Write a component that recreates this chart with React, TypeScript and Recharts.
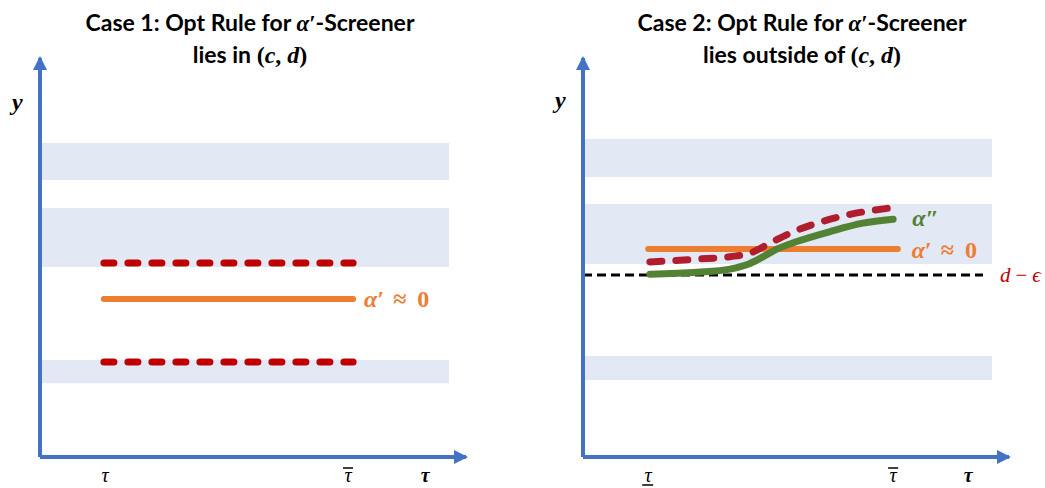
import { ComposedChart, Line, XAxis, YAxis, ReferenceArea, ReferenceLine, Scatter } from "recharts";

const AXIS_BLUE = "#4472C4";
const BAND = "#E2E8F4";
const ORANGE = "#ED7D31";
const RED1 = "#C00000";
const RED2 = "#B01E2D";
const GREEN = "#548235";
const SERIF = "'Liberation Serif', 'DejaVu Serif', serif";
const SANS = "Lato, 'Open Sans', sans-serif";

// x and y both run 0..10 on each panel
const case1Bands = [
  { y1: 6.94, y2: 7.87 },
  { y1: 4.76, y2: 6.24 },
  { y1: 1.85, y2: 2.43 },
];
const case2Bands = [
  { y1: 7.02, y2: 7.97 },
  { y1: 4.84, y2: 6.34 },
  { y1: 1.93, y2: 2.53 },
];
const bandEnd = 9.6;

const case1Upper = [{ x: 1.5, y: 4.86 }, { x: 7.35, y: 4.86 }];
const case1Alpha = [{ x: 1.5, y: 3.96 }, { x: 7.35, y: 3.96 }];
const case1Lower = [{ x: 1.5, y: 2.38 }, { x: 7.35, y: 2.38 }];

const case2Alpha = [{ x: 1.53, y: 5.21 }, { x: 7.39, y: 5.21 }];
const case2Green = [
  { x: 1.57, y: 4.58 },
  { x: 2.68, y: 4.63 },
  { x: 3.45, y: 4.71 },
  { x: 3.92, y: 4.85 },
  { x: 4.23, y: 5.02 },
  { x: 4.55, y: 5.21 },
  { x: 5.02, y: 5.4 },
  { x: 5.8, y: 5.65 },
  { x: 6.57, y: 5.86 },
  { x: 7.28, y: 5.96 },
];
const case2Red = [
  { x: 1.57, y: 4.89 },
  { x: 2.68, y: 4.96 },
  { x: 3.45, y: 5.02 },
  { x: 3.92, y: 5.11 },
  { x: 4.39, y: 5.36 },
  { x: 4.86, y: 5.61 },
  { x: 5.49, y: 5.86 },
  { x: 6.27, y: 6.08 },
  { x: 7.28, y: 6.25 },
];
const dEpsilon = 4.56;
const dEpsilonEnd = 9.39;

const case1Ticks = [
  { value: 1.53, label: "τ", mark: "", bold: false },
  { value: 7.23, label: "τ", mark: "over", bold: false },
  { value: 9.04, label: "τ", mark: "", bold: true },
];
const case2Ticks = [
  { value: 1.53, label: "τ", mark: "under", bold: false },
  { value: 7.28, label: "τ", mark: "over", bold: false },
  { value: 9.04, label: "τ", mark: "", bold: true },
];

const xArrow = [{ x: 10, y: 0 }];
const yArrow = [{ x: 0, y: 10 }];

const W = 520;
const H = 488;
const MARGIN = { top: 58, right: 54, bottom: 1, left: 39 };

function makeTick(ticks: typeof case1Ticks) {
  return (p: any) => {
    const t = ticks.find((k) => Math.abs(k.value - p.payload.value) < 1e-6);
    if (!t) return <g />;
    const base = p.y + 25;
    return (
      <g>
        <text
          x={p.x}
          y={base}
          textAnchor="middle"
          fontFamily={SERIF}
          fontStyle="italic"
          fontWeight={t.bold ? 700 : 400}
          fontSize={20}
          fill="#000"
        >
          {t.label}
        </text>
        {t.mark === "over" && <line x1={p.x - 5} x2={p.x + 5} y1={base - 14} y2={base - 14} stroke="#000" strokeWidth={1.5} />}
        {t.mark === "under" && <line x1={p.x - 6} x2={p.x + 5} y1={base + 3} y2={base + 3} stroke="#000" strokeWidth={1.5} />}
      </g>
    );
  };
}

const rightArrow = (p: any) => (
  <polygon points={`${p.cx + 2},${p.cy} ${p.cx - 12},${p.cy - 7} ${p.cx - 12},${p.cy + 7}`} fill={AXIS_BLUE} />
);
const upArrow = (p: any) => (
  <polygon points={`${p.cx},${p.cy - 2} ${p.cx - 7},${p.cy + 12} ${p.cx + 7},${p.cy + 12}`} fill={AXIS_BLUE} />
);

function alphaPrimeLabel(count: number, dx: number) {
  return (p: any) =>
    p.index === count - 1 ? (
      <text x={p.x + dx} y={p.y} dy="0.35em" fontFamily={SERIF} fontSize={24} fontWeight={700} fill={ORANGE}>
        <tspan fontStyle="italic">α</tspan>
        <tspan>′</tspan>
        <tspan dx={9}>≈</tspan>
        <tspan dx={11}>0</tspan>
      </text>
    ) : (
      <g />
    );
}

function alphaDoubleLabel(count: number) {
  return (p: any) =>
    p.index === count - 1 ? (
      <text x={p.x + 19} y={p.y - 2} dy="0.35em" fontFamily={SERIF} fontSize={24} fontWeight={700} fill={GREEN}>
        <tspan fontStyle="italic">α</tspan>
        <tspan>″</tspan>
      </text>
    ) : (
      <g />
    );
}

const dEpsLabel = (p: any) => {
  const vb = p.viewBox;
  return (
    <text x={vb.x + vb.width + 17} y={vb.y} dy="0.35em" fontFamily={SERIF} fontSize={21} fill={RED1}>
      <tspan fontStyle="italic">d</tspan>
      <tspan dx={5}>−</tspan>
      <tspan dx={5} fontStyle="italic">ϵ</tspan>
    </text>
  );
};

function Title({ left, width, top, second }: { left: number; width: number; top: string; second: string }) {
  return (
    <div
      style={{
        position: "absolute",
        left,
        top: 7,
        width,
        textAlign: "center",
        fontFamily: SANS,
        fontWeight: 700,
        fontSize: 23,
        lineHeight: "30px",
        color: "#000",
      }}
    >
      <div>
        {top} <span style={{ fontFamily: SERIF, fontStyle: "italic" }}>α′</span>-Screener
      </div>
      <div>
        {second}{" "}
        <span style={{ fontFamily: SERIF, fontSize: 24 }}>
          (<i>c</i>, <i>d</i>)
        </span>
      </div>
    </div>
  );
}

function YLabel({ left, top }: { left: number; top: number }) {
  return (
    <div
      style={{
        position: "absolute",
        left,
        top,
        fontFamily: SERIF,
        fontStyle: "italic",
        fontWeight: 700,
        fontSize: 24,
        lineHeight: "24px",
      }}
    >
      y
    </div>
  );
}

function CommonAxes(ticks: typeof case1Ticks) {
  return [
    <XAxis
      key="x"
      type="number"
      dataKey="x"
      domain={[0, 10]}
      ticks={ticks.map((t) => t.value)}
      tick={makeTick(ticks)}
      tickLine={false}
      tickSize={0}
      tickMargin={0}
      height={30}
      axisLine={{ stroke: AXIS_BLUE, strokeWidth: 4 }}
      allowDecimals
    />,
    <YAxis
      key="y"
      type="number"
      dataKey="y"
      domain={[0, 10]}
      tick={false}
      tickLine={false}
      width={1}
      axisLine={{ stroke: AXIS_BLUE, strokeWidth: 4 }}
    />,
  ];
}

export default function App() {
  return (
    <div style={{ position: "absolute", left: 0, top: 0, width: 1045, height: 488, background: "#fff", overflow: "hidden" }}>
      <Title left={0} width={500} top="Case 1: Opt Rule for" second="lies in" />
      <Title left={543} width={518} top="Case 2: Opt Rule for" second="lies outside of" />
      <YLabel left={12} top={90} />
      <YLabel left={555} top={88} />

      <div style={{ position: "absolute", left: 0, top: 0 }}>
        <ComposedChart width={W} height={H} margin={MARGIN}>
          {CommonAxes(case1Ticks)}
          {case1Bands.map((b, i) => (
            <ReferenceArea key={i} x1={0} x2={bandEnd} y1={b.y1} y2={b.y2} fill={BAND} fillOpacity={1} stroke="none" />
          ))}
          <Line data={case1Upper} dataKey="y" stroke={RED1} strokeWidth={7} strokeDasharray="10 14" strokeLinecap="round" dot={false} isAnimationActive={false} />
          <Line data={case1Lower} dataKey="y" stroke={RED1} strokeWidth={7} strokeDasharray="10 14" strokeLinecap="round" dot={false} isAnimationActive={false} />
          <Line
            data={case1Alpha}
            dataKey="y"
            stroke={ORANGE}
            strokeWidth={6}
            strokeLinecap="round"
            dot={false}
            isAnimationActive={false}
            label={alphaPrimeLabel(case1Alpha.length, 11)}
          />
          <Scatter data={xArrow} dataKey="y" shape={rightArrow} isAnimationActive={false} />
          <Scatter data={yArrow} dataKey="y" shape={upArrow} isAnimationActive={false} />
        </ComposedChart>
      </div>

      <div style={{ position: "absolute", left: 543, top: 0 }}>
        <ComposedChart width={502} height={H} margin={{ ...MARGIN, right: 36 }}>
          {CommonAxes(case2Ticks)}
          {case2Bands.map((b, i) => (
            <ReferenceArea key={i} x1={0} x2={bandEnd} y1={b.y1} y2={b.y2} fill={BAND} fillOpacity={1} stroke="none" />
          ))}
          <ReferenceLine
            segment={[
              { x: 0, y: dEpsilon },
              { x: dEpsilonEnd, y: dEpsilon },
            ]}
            stroke="#000"
            strokeWidth={3}
            strokeDasharray="9 5"
            label={dEpsLabel}
          />
          <Line
            data={case2Alpha}
            dataKey="y"
            stroke={ORANGE}
            strokeWidth={6}
            strokeLinecap="round"
            dot={false}
            isAnimationActive={false}
            label={alphaPrimeLabel(case2Alpha.length, 14)}
          />
          <Line
            data={case2Green}
            type="monotone"
            dataKey="y"
            stroke={GREEN}
            strokeWidth={7}
            strokeLinecap="round"
            dot={false}
            isAnimationActive={false}
            label={alphaDoubleLabel(case2Green.length)}
          />
          <Line
            data={case2Red}
            type="monotone"
            dataKey="y"
            stroke={RED2}
            strokeWidth={7}
            strokeDasharray="12 14"
            strokeLinecap="round"
            dot={false}
            isAnimationActive={false}
          />
          <Scatter data={xArrow} dataKey="y" shape={rightArrow} isAnimationActive={false} />
          <Scatter data={yArrow} dataKey="y" shape={upArrow} isAnimationActive={false} />
        </ComposedChart>
      </div>
    </div>
  );
}
